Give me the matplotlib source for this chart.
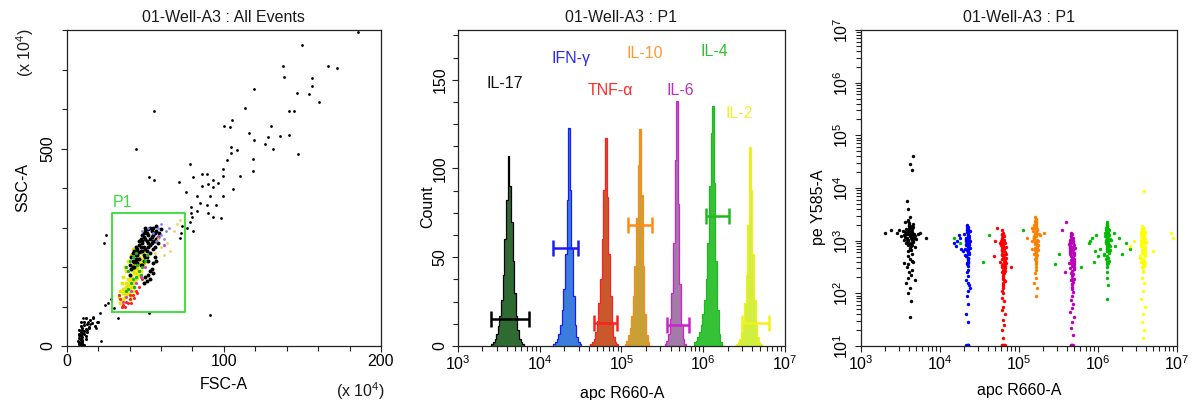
import numpy as np
import matplotlib
matplotlib.use('Agg')
import matplotlib.pyplot as plt
from matplotlib.ticker import FixedLocator, FixedFormatter, MultipleLocator, LogLocator, NullFormatter

plt.rcParams['font.family'] = ['Liberation Sans', 'DejaVu Sans']
plt.rcParams['mathtext.fontset'] = 'custom'
plt.rcParams['mathtext.rm'] = 'Liberation Sans'
plt.rcParams['mathtext.it'] = 'Liberation Sans:italic'
plt.rcParams['font.size'] = 11.5
plt.rcParams['text.color'] = '#1a1a1a'

# ---------------- Panel 1 data: FSC-A vs SSC-A (x10^4) ----------------
deb_x = [8,9,10,8,9,11,10,9,8,12,10,9,11,8,10,9,12,13,11,10,9,14,12,8,10,11,9,15,13,16,12,18,14,17,20,11,9,10,7,8,9,10]
deb_y = [5,10,15,20,25,30,12,35,40,18,45,28,38,8,22,50,42,55,60,32,14,48,25,30,8,52,62,65,35,58,70,50,45,72,60,3,2,40,12,28,18,6]
low_x = [24.2,21,16.8,13.6,18.9,22.1,12.7,10.6,25.3,23.6,32.7,52.3,91.1,28,30,26,19,15]
low_y = [104,83,74,62,45,13,40,72,281,260,70,83,78,120,95,110,60,55]
tail_x = [149.5,137.4,138.2,166.4,171.8,156.2,156.2,146.3,154.4,160.7,119.1,113.4,105.3,100,103.8,141.2,144.8,129.7,135.7,141.2,
          128.4,126.1,131,147.3,116.1,119.1,104.3,104.3,108.6,118.7,118.7,101.7,99.2,99.2,110.2,78.3,85.8,89,80.6,93.2,
          90,96.4,85.8,93.2,105.9,76.2,82.6,91.1,99.6,71.6,84.7,89,94.8,79.4,82.6,90,98.1,93.2,79.4,80,
          78.3,73.6,76.6,80.6,73,71.9,55.6,43.8,52.3,55.6,185.6]
tail_y = [762,710,682,710,705,678,658,640,637,617,650,602,572,558,555,595,595,558,532,535,
          530,511,499,486,538,521,505,488,496,473,442,470,448,431,431,461,436,436,429,419,
          410,412,405,403,397,390,380,381,381,415,361,357,357,353,343,336,323,327,336,327,
          315,304,298,292,286,273,595,499,429,420,794]
cb_x = [48,52,44,50,55,46,53,49,57,42,51,54,47,56,45,50,58,43,52,48,53,41,55,49,46,51,57,44,54,47,
        59,50,52,45,56,48,53,42,55,51,49,47,54,58,50,46,53,52,44,56,40,43,57,49,51,48,55,45,60,52,
        52,54,55,56,53,51,57,50,49,53,55,40,42,44,41,43,45,47,46,49,44,48,50]
cb_y = [240,250,230,270,280,255,235,215,290,215,225,260,205,265,245,290,275,200,280,260,300,225,245,230,220,265,305,250,290,270,
        285,245,215,210,250,280,270,235,300,240,250,240,275,260,225,238,255,295,215,285,205,240,270,275,285,205,265,230,295,260,
        180,195,210,225,170,165,215,175,160,190,185,180,200,220,195,212,235,250,265,285,240,265,300]
yel_x = [38,40,42,36,41,44,39,43,37,45,40,42,38,46,41,44,36,43,39,47,35,42,40,45,37,48,41,44,39,46,34,43,38,47,40,42,36,45,49,41,
         33,34,35,36,38,37,39,41,42,44,46,48,43,50,47,45,49,51]
yel_y = [130,145,160,120,175,170,155,185,140,195,165,140,150,180,130,200,135,150,170,205,115,190,120,175,125,215,150,185,135,210,
         110,165,160,190,180,205,145,220,225,195,
         125,140,160,175,190,200,215,230,245,210,225,235,195,240,220,200,210,215]
red_x = [36,38,40,42,37,44,35,39,43,46,41,45,48,40,34,33]
red_y = [105,112,118,128,100,140,98,108,122,150,110,135,170,130,118,130]
grn_x = [41,44,46,39,48,43,50,45,42,47,38,51,38,40,42,39,44]
grn_y = [160,175,190,145,200,150,215,205,170,180,140,230,200,215,225,190,235]
mag_x = [38,41,44,36,47,58,62,50]
mag_y = [125,140,160,112,175,275,255,200]
blu_x = [55,58,60,62,57,63,52,48,65,60]
blu_y = [285,300,280,270,265,290,300,290,300,310]
org_x = [58,60,64,66,62,68,72,70,56]
org_y = [270,250,260,240,230,290,320,310,235]
gate_p1 = [29.1, 75.2, 85, 336]  # x0, x1, y0, y1

# ---------------- Panel 2 data: histograms (log10 apc R660-A) ----------------
names = ['IL-17', 'IFN-γ', 'TNF-α', 'IL-10', 'IL-6', 'IL-4', 'IL-2']
hist_start = [3.42, 4.18, 4.63, 5.05, 5.54, 5.90, 6.41]
bin_w = 0.02
counts_il17 = [1,2,4,7,11,17,26,40,60,82,107,90,70,48,30,17,9,4,2,1]
counts_ifng = [1,2,4,7,12,20,32,52,82,123,88,55,28,12,5,2,1]
counts_tnfa = [1,2,4,8,14,24,38,60,88,117,84,52,28,13,5,2,1]
counts_il10 = [1,3,6,10,17,28,45,72,102,122,85,45,18,6,2]
counts_il6 = [1,3,7,15,30,58,105,138,80,35,12,4,1]
counts_il4 = [2,3,5,8,12,18,26,38,58,90,120,135,92,48,20,7,2]
counts_il2 = [1,2,4,8,14,24,40,68,112,88,52,26,12,5,2,1]
hist_counts = [counts_il17, counts_ifng, counts_tnfa, counts_il10, counts_il6, counts_il4, counts_il2]
gate_lo = [3.41, 4.17, 4.66, 5.08, 5.56, 6.03, 6.47]
gate_hi = [3.87, 4.47, 4.95, 5.38, 5.83, 6.32, 6.80]
gate_y = [15, 55, 13, 68, 12, 73, 13]
lab_x = [3.575, 4.39, 4.87, 5.29, 5.72, 6.14, 6.44]
lab_y = [148, 162, 144, 165, 144, 166, 131]

line_colors = ['#000000', '#1a1aff', '#ff2020', '#ff8a1a', '#cc22cc', '#22b822', '#f2f21a']
fill_colors = ['#2f6a32', '#3b7ddb', '#c9582c', '#c9a035', '#a47aa8', '#36c236', '#d2ee3e']
text_colors = ['#111111', '#2a2af0', '#ff2a2a', '#ff9a30', '#c030c0', '#30c030', '#f0f030']
dot_colors = ['#000000', '#0000ff', '#ff0000', '#ff8000', '#bb00bb', '#00bb00', '#ffff00']

# ---------------- Panel 3 data: log10 apc R660-A vs log10 pe Y585-A ----------------
il17_x = [3.55,3.60,3.63,3.58,3.66,3.62,3.57,3.64,3.61,3.68,3.59,3.63,3.54,3.65,3.60,3.62,3.67,3.56,3.61,3.64,
          3.58,3.70,3.62,3.53,3.66,3.60,3.63,3.57,3.65,3.61,3.59,3.64,3.62,3.68,3.56,3.60,3.63,3.66,3.58,3.61,
          3.72,3.50,3.64,3.59,3.62,3.75,3.48,3.65,3.60,3.63,
          3.62,3.60,3.66,3.58,3.64,3.61,3.63,3.59,3.65,3.57,3.62,3.60,3.68,3.55,3.63,
          3.60,3.58,3.64,3.62,3.38,3.82,3.45,3.62,3.66,3.30,
          3.59,3.63,3.61,3.65,3.57,3.62,3.60,3.64,3.58,3.66,3.61,3.63,3.56,3.60,3.62,3.67,3.59,3.64,3.61,3.62]
il17_y = [3.10,3.20,3.05,3.15,3.00,3.25,2.95,3.12,3.30,3.08,3.18,2.90,3.02,3.22,3.14,2.85,3.06,3.35,3.28,3.16,
          2.98,3.04,3.11,3.19,3.26,2.80,3.09,3.13,2.92,3.24,3.40,3.01,3.17,2.88,3.07,3.21,2.96,3.32,3.03,3.14,
          3.12,3.08,2.75,3.38,3.45,3.15,3.20,3.05,2.70,3.23,
          2.65,2.55,2.60,2.50,2.45,2.40,2.35,2.30,2.62,2.20,2.10,2.00,2.25,2.58,1.85,
          3.60,3.75,4.35,4.45,3.20,3.05,3.15,1.55,4.60,3.15,
          3.02,3.18,2.94,3.08,3.22,2.86,3.12,3.27,3.06,2.97,3.33,2.83,3.16,3.00,3.24,3.13,2.91,3.04,3.19,3.09]
ifng_x = [4.34,4.36,4.33,4.37,4.35,4.32,4.38,4.35,4.34,4.36,4.33,4.37,4.35,4.31,4.36,4.34,4.38,4.35,4.33,4.36,
          4.34,4.37,4.35,4.32,4.36,4.34,4.35,4.37,4.33,4.36,4.35,4.34,4.38,4.33,4.36,4.35,4.34,4.37,4.35,4.36,
          4.22,4.20,4.25,4.27,4.18,4.29,4.24,
          4.35,4.34,4.36,4.33,4.37,4.35,4.34,4.36,4.35,4.38,4.33,4.36,
          4.34,4.35,4.36,4.35,4.33,
          4.35,4.36,4.34,4.37,4.33,4.35,4.36,4.34,4.35,4.37,4.33,4.36,4.35,4.34,4.36]
ifng_y = [3.25,3.15,3.05,2.95,3.10,2.85,3.00,2.75,3.20,2.90,2.70,3.08,2.80,3.12,2.65,2.98,3.18,2.60,3.02,2.88,
          2.55,2.92,3.22,2.72,2.82,3.28,2.68,3.06,2.94,2.78,3.14,2.58,2.86,3.00,2.62,2.96,3.30,2.76,2.52,3.04,
          3.00,2.90,3.05,2.85,2.95,2.80,3.10,
          2.45,2.40,2.32,2.25,2.15,2.05,1.95,2.20,1.80,2.10,1.60,1.45,
          1.02,1.02,1.02,1.02,1.02,
          3.08,2.93,3.17,2.87,3.03,2.67,2.99,2.83,3.26,2.74,2.91,3.11,2.57,3.21,2.79]
tnfa_x = [4.80,4.78,4.82,4.79,4.81,4.77,4.83,4.80,4.79,4.82,4.78,4.81,4.80,4.76,4.84,4.80,4.79,4.81,4.78,4.82,
          4.80,4.77,4.83,4.79,4.81,4.80,4.78,4.82,4.80,4.79,4.81,4.76,4.83,4.80,4.78,4.82,4.80,4.79,4.81,4.80,
          4.78,4.82,4.80,4.79,4.81,
          4.80,4.79,4.81,4.80,4.78,4.82,4.80,4.81,4.79,4.80,
          4.70,4.68,4.90,4.72,
          4.78,4.80,4.82,4.79,4.81,
          4.80,4.81,4.79,4.82,4.78,4.80,4.81,4.79,4.80,4.82,4.78,4.81,4.80,4.79,4.81]
tnfa_y = [3.15,3.05,2.95,3.10,2.85,3.00,2.75,2.90,3.20,2.65,2.80,3.08,2.70,2.60,2.88,2.55,3.12,2.98,2.50,2.78,
          2.45,2.92,2.68,2.40,3.02,2.35,2.84,2.62,2.30,2.72,2.25,2.96,2.58,2.20,2.82,2.48,2.15,2.66,2.38,2.10,
          2.74,2.52,2.28,2.05,2.86,
          2.00,1.92,1.85,1.75,1.68,1.60,1.50,1.40,1.30,1.15,
          3.00,2.70,2.50,3.25,
          1.02,1.02,1.02,1.02,1.02,
          2.93,2.63,3.03,2.43,2.83,2.33,2.73,2.53,3.13,2.23,2.98,2.68,2.13,2.88,2.58]
il10_x = [5.21,5.19,5.23,5.20,5.22,5.18,5.24,5.21,5.20,5.23,5.19,5.22,5.21,5.17,5.25,5.21,5.20,5.22,5.19,5.23,
          5.21,5.18,5.24,5.20,5.22,5.21,5.19,5.23,5.21,5.20,5.22,5.17,5.24,5.21,5.19,5.23,5.21,5.20,5.22,5.21,
          5.16,5.26,5.20,5.22,5.21,
          5.21,5.20,5.22,5.19,5.23,5.21,
          5.10,5.32,
          5.21,5.22,5.20,5.23,5.19,5.21,5.22,5.20,5.21,5.23,5.19,5.22,5.21,5.20,5.22]
il10_y = [3.40,3.30,3.20,3.35,3.10,3.25,3.00,3.15,3.45,2.90,3.05,3.32,2.95,2.85,3.12,2.80,3.38,3.22,2.75,3.02,
          2.70,3.18,2.92,2.65,3.28,2.60,3.08,2.88,2.55,2.98,2.50,3.24,2.82,3.42,3.06,2.72,3.36,2.94,2.62,3.14,
          3.00,3.10,2.86,3.26,2.78,
          2.45,2.38,2.30,2.20,2.10,1.95,
          3.05,3.15,
          3.17,2.97,3.27,2.87,3.07,3.37,2.77,3.13,2.93,3.23,3.03,2.67,3.33,2.83,3.09]
il6_x = [5.67,5.65,5.69,5.66,5.68,5.64,5.70,5.67,5.66,5.69,5.65,5.68,5.67,5.63,5.71,5.67,5.66,5.68,5.65,5.69,
         5.67,5.64,5.70,5.66,5.68,5.67,5.65,5.69,5.67,5.66,5.68,5.63,5.70,5.67,5.65,5.69,5.67,5.66,5.68,5.67,
         5.65,5.69,5.66,5.68,5.67,
         5.67,5.66,5.68,5.67,5.65,5.69,5.67,5.66,5.68,
         5.55,5.58,5.60,
         5.66,5.67,5.68,5.67,5.66,
         5.67,5.68,5.66,5.69,5.65,5.67,5.68,5.66,5.67,5.69,5.65,5.68,5.67,5.66,5.68]
il6_y = [3.12,3.02,2.92,3.08,2.82,2.98,2.72,2.88,3.15,2.62,2.78,3.05,2.68,2.58,2.86,2.52,3.10,2.95,2.48,2.76,
         2.42,2.90,2.66,2.38,3.00,2.32,2.80,2.60,2.28,2.70,2.22,2.94,2.56,2.18,2.84,2.46,2.12,2.64,2.36,2.08,
         2.74,2.50,2.26,2.02,2.86,
         1.95,1.88,1.80,1.72,1.65,1.55,1.45,1.35,1.20,
         3.20,2.40,3.35,
         1.02,1.02,1.02,1.02,1.02,
         2.97,2.67,3.07,2.47,2.87,2.37,2.77,2.57,3.02,2.27,2.92,2.62,2.17,2.82,2.53]
il4_x = [6.12,6.10,6.14,6.11,6.13,6.09,6.15,6.12,6.11,6.14,6.10,6.13,6.12,6.08,6.16,6.12,6.11,6.13,6.10,6.14,
         6.12,6.09,6.15,6.11,6.13,6.12,6.10,6.14,6.12,6.11,6.13,6.08,6.15,6.12,6.10,6.14,6.12,6.11,6.13,6.12,
         6.12,6.11,6.13,6.12,
         5.88,5.92,5.96,5.98,6.00,6.02,5.95,5.90,6.22,6.26,6.30,6.35,6.40,6.20,5.78,5.45,5.50,4.25,4.18,4.62,4.55,5.05,
         6.12,6.13,6.11,6.14,6.10,6.12,6.13,6.11,6.12,6.14,6.10,6.13,6.12,6.11,6.13]
il4_y = [3.30,3.20,3.10,3.25,3.00,3.15,2.90,3.05,3.35,2.80,2.95,3.22,2.85,2.75,3.02,2.70,3.28,3.12,2.65,2.92,
         2.60,3.08,2.82,2.55,3.18,2.50,2.98,2.78,3.32,2.88,3.14,2.72,3.04,2.94,3.24,2.62,2.84,3.06,2.96,3.16,
         2.40,2.30,2.15,1.90,
         2.95,3.05,2.80,3.10,2.70,2.85,2.60,3.00,2.90,3.05,2.75,2.95,2.85,3.15,2.50,2.55,2.75,2.95,3.05,3.10,2.60,3.20,
         3.07,2.87,3.17,2.77,2.97,3.27,2.67,3.12,2.91,3.21,3.01,2.57,3.31,2.81,3.09]
il2_x = [6.57,6.55,6.59,6.56,6.58,6.54,6.60,6.57,6.56,6.59,6.55,6.58,6.57,6.53,6.61,6.57,6.56,6.58,6.55,6.59,
         6.57,6.54,6.60,6.56,6.58,6.57,6.55,6.59,6.57,6.56,6.58,6.53,6.60,6.57,6.55,6.59,6.57,6.56,6.58,6.57,
         6.56,6.58,
         6.57,6.56,6.58,6.57,6.55,6.59,6.57,6.56,6.58,6.57,
         6.45,6.40,6.70,6.95,6.92,6.58,
         6.57,6.58,6.56,6.59,6.55,6.57,6.58,6.56,6.57,6.59,6.55,6.58,6.57,6.56,6.58]
il2_y = [3.25,3.15,3.05,3.20,2.95,3.10,2.85,3.00,3.28,2.75,2.90,3.18,2.80,2.70,2.98,2.65,3.22,3.08,2.60,2.88,
         2.55,3.02,2.78,2.50,3.12,2.45,2.92,2.72,3.26,2.82,3.06,2.68,2.96,2.86,3.16,2.58,2.76,2.94,3.04,2.84,
         2.62,2.52,
         2.40,2.30,2.20,2.05,1.90,1.75,1.60,1.45,1.30,1.15,
         3.00,2.90,2.80,3.05,3.15,3.95,
         3.01,2.81,3.11,2.71,2.91,3.21,2.61,3.06,2.86,3.16,2.96,2.51,3.23,2.76,2.99]
clusters_x = [il17_x, ifng_x, tnfa_x, il10_x, il6_x, il4_x, il2_x]
clusters_y = [il17_y, ifng_y, tnfa_y, il10_y, il6_y, il4_y, il2_y]

# ---------------- Figure ----------------
W, H = 1193, 400
fig = plt.figure(figsize=(W / 100, H / 100), dpi=100)
ax1 = fig.add_axes([66.7 / W, 54 / H, 314.3 / W, 316 / H])
ax2 = fig.add_axes([457.7 / W, 54 / H, 327.3 / W, 316 / H])
ax3 = fig.add_axes([861 / W, 54 / H, 316 / W, 316 / H])

for ax in (ax1, ax2, ax3):
    for sp in ax.spines.values():
        sp.set_linewidth(0.9)
        sp.set_color('#222222')
    ax.tick_params(which='both', direction='out', width=0.8, color='#222222')
    ax.tick_params(which='major', length=4)
    ax.tick_params(which='minor', length=3.5)

ms = 5
# Panel 1
ax1.scatter(deb_x, deb_y, s=ms, c='#000000', linewidths=0)
ax1.scatter(low_x, low_y, s=ms - 1, c='#000000', linewidths=0)
ax1.scatter(tail_x, tail_y, s=ms - 1, c='#000000', linewidths=0)
ax1.scatter(yel_x, yel_y, s=ms + 3, c='#e6e600', linewidths=0)
ax1.scatter(cb_x, cb_y, s=ms + 3, c='#000000', linewidths=0)
ax1.scatter(red_x, red_y, s=ms, c='#ff2020', linewidths=0)
ax1.scatter(grn_x, grn_y, s=ms + 1, c='#20b020', linewidths=0)
ax1.scatter(mag_x, mag_y, s=ms, c='#cc44cc', linewidths=0)
ax1.scatter(blu_x, blu_y, s=ms - 1, c='#8080ff', linewidths=0)
ax1.scatter(org_x, org_y, s=ms - 1, c='#f0d060', linewidths=0)
gx0, gx1, gy0, gy1 = gate_p1
ax1.plot([gx0, gx1, gx1, gx0, gx0], [gy0, gy0, gy1, gy1, gy0], color='#33dd33', lw=1.3)
ax1.text(gx0, gy1 + 28, 'P1', color='#33dd33', ha='left', va='center')
ax1.set_xlim(0, 200)
ax1.set_ylim(0, 800)
ax1.xaxis.set_major_locator(FixedLocator([0, 100, 200]))
ax1.xaxis.set_minor_locator(MultipleLocator(20))
ax1.yaxis.set_major_locator(FixedLocator([0, 500]))
ax1.yaxis.set_minor_locator(MultipleLocator(100))
ax1.tick_params(axis='y', labelrotation=90, pad=4)
ax1.tick_params(axis='x', pad=1.5)
for lab in ax1.get_yticklabels():
    lab.set_va('center')
ax1.set_title('01-Well-A3 : All Events', y=1.0253, pad=0, fontsize=11.5)
ax1.set_xlabel('FSC-A')
ax1.xaxis.set_label_coords(0.5, -0.123)
ax1.xaxis.label.set_va('center')
ax1.set_ylabel('SSC-A')
ax1.yaxis.set_label_coords(-0.139, 0.503)
ax1.yaxis.label.set_va('center')
ax1.text(-0.133, 0.927, r'(x 10$^{4}$)', transform=ax1.transAxes, rotation=90, ha='center', va='center')
ax1.text(0.933, -0.142, r'(x 10$^{4}$)', transform=ax1.transAxes, ha='center', va='center')

# Panel 2
for i in range(len(names)):
    cnt = np.array(hist_counts[i], dtype=float)
    edges = 10 ** (hist_start[i] - bin_w / 2 + bin_w * np.arange(len(cnt) + 1))
    ax2.stairs(cnt, edges, fill=True, color=fill_colors[i], lw=0)
    ax2.stairs(cnt, edges, color=line_colors[i], lw=0.9)
for i in range(len(names)):
    lo, hi, yy = 10 ** gate_lo[i], 10 ** gate_hi[i], gate_y[i]
    c = line_colors[i]
    ax2.plot([lo, hi], [yy, yy], color=c, lw=1.8, solid_capstyle='butt')
    ax2.plot([lo, lo], [yy - 4.5, yy + 4.5], color=c, lw=1.8, solid_capstyle='butt')
    ax2.plot([hi, hi], [yy - 4.5, yy + 4.5], color=c, lw=1.8, solid_capstyle='butt')
    ax2.text(10 ** lab_x[i], lab_y[i], names[i], color=text_colors[i], ha='center', va='center')
ax2.set_xscale('log')
ax2.set_xlim(1e3, 1e7)
ax2.set_ylim(0, 178)
ax2.yaxis.set_major_locator(FixedLocator([0, 50, 100, 150]))
ax2.yaxis.set_minor_locator(MultipleLocator(12.5))
ax2.tick_params(axis='y', labelrotation=90, pad=3.5)
for lab in ax2.get_yticklabels():
    lab.set_va('center')
ax2.set_title('01-Well-A3 : P1', y=1.0253, pad=0, fontsize=11.5)
ax2.set_xlabel('apc R660-A')
ax2.xaxis.set_label_coords(0.502, -0.15)
ax2.xaxis.label.set_va('center')
ax2.set_ylabel('Count')
ax2.yaxis.set_label_coords(-0.092, 0.44)
ax2.yaxis.label.set_va('center')

# Panel 3
for i in range(len(names)):
    ax3.scatter(10 ** np.array(clusters_x[i]), 10 ** np.array(clusters_y[i]), s=ms + 1, c=dot_colors[i], linewidths=0)
ax3.set_xscale('log')
ax3.set_yscale('log')
ax3.set_xlim(1e3, 1e7)
ax3.set_ylim(1e1, 1e7)
ax3.yaxis.set_major_locator(FixedLocator([10.0 ** k for k in range(1, 8)]))
ax3.yaxis.set_major_formatter(FixedFormatter([r'$\mathregular{10^{%d}}$' % k for k in range(1, 8)]))
ax3.yaxis.set_minor_locator(LogLocator(base=10, subs=np.arange(2, 10), numticks=100))
ax3.yaxis.set_minor_formatter(NullFormatter())
ax3.tick_params(axis='y', labelrotation=90, pad=3.5)
for lab in ax3.get_yticklabels():
    lab.set_va('center')
ax3.set_title('01-Well-A3 : P1', y=1.0253, pad=0, fontsize=11.5)
ax3.set_xlabel('apc R660-A')
ax3.xaxis.set_label_coords(0.5, -0.14)
ax3.xaxis.label.set_va('center')
ax3.set_ylabel('pe Y585-A')
ax3.yaxis.set_label_coords(-0.133, 0.44)
ax3.yaxis.label.set_va('center')

for ax in (ax2, ax3):
    ax.xaxis.set_major_locator(FixedLocator([10.0 ** k for k in range(3, 8)]))
    ax.xaxis.set_major_formatter(FixedFormatter([r'$\mathregular{10^{%d}}$' % k for k in range(3, 8)]))
    ax.xaxis.set_minor_locator(LogLocator(base=10, subs=np.arange(2, 10), numticks=100))
    ax.xaxis.set_minor_formatter(NullFormatter())
    ax.tick_params(axis='x', pad=2)

fig.savefig('out.png', dpi=100)
